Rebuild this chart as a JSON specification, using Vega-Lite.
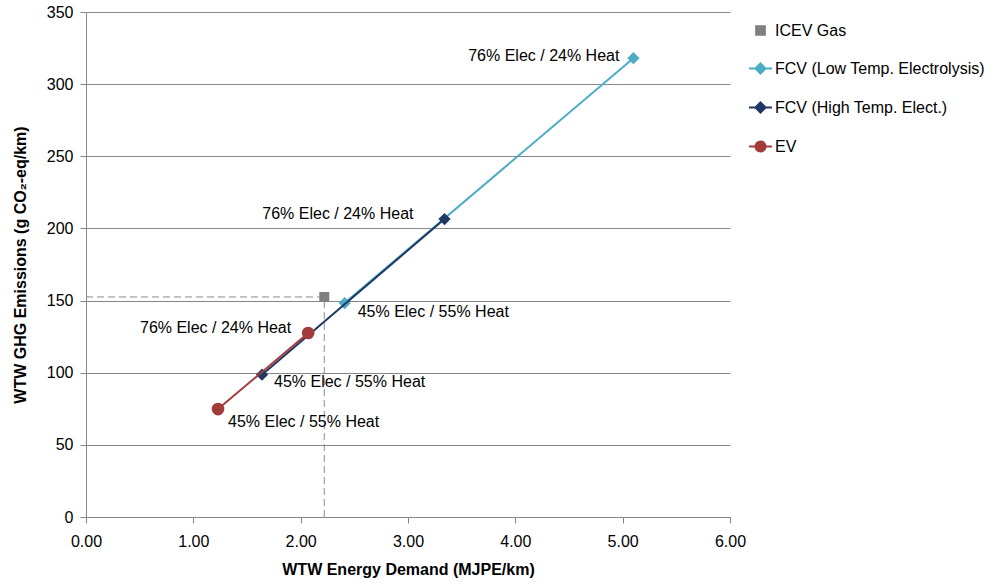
{
  "$schema": "https://vega.github.io/schema/vega-lite/v6.json",
  "autosize": "none",
  "width": 644,
  "height": 505,
  "padding": {"left": 86, "top": 12, "right": 265, "bottom": 68},
  "background": "white",
  "config": {
    "view": {"stroke": null},
    "font": "Liberation Sans",
    "axis": {
      "labelFont": "Liberation Sans",
      "labelFontSize": 16,
      "labelColor": "#000000",
      "labelFlush": false,
      "titleFont": "Liberation Sans",
      "titleFontSize": 16,
      "titleFontWeight": "bold",
      "titleColor": "#000000",
      "domainColor": "#868686",
      "tickColor": "#868686",
      "gridColor": "#868686",
      "tickSize": 6
    },
    "legend": {
      "labelFont": "Liberation Sans",
      "labelFontSize": 16,
      "labelColor": "#000000",
      "labelLimit": 400,
      "padding": 0
    }
  },
  "data": {
    "values": [
      {"series": "ICEV Gas", "energy": 2.22, "ghg": 152.5, "lab": "", "id": "icev"},
      {"series": "FCV (Low Temp. Electrolysis)", "energy": 2.41, "ghg": 148.3, "lab": "45% Elec / 55% Heat", "id": "lowA"},
      {"series": "FCV (Low Temp. Electrolysis)", "energy": 5.10, "ghg": 318, "lab": "76% Elec / 24% Heat", "id": "lowB"},
      {"series": "FCV (High Temp. Elect.)", "energy": 1.64, "ghg": 98.6, "lab": "45% Elec / 55% Heat", "id": "highA"},
      {"series": "FCV (High Temp. Elect.)", "energy": 3.34, "ghg": 206.5, "lab": "76% Elec / 24% Heat", "id": "highB"},
      {"series": "EV", "energy": 1.23, "ghg": 74.8, "lab": "45% Elec / 55% Heat", "id": "evA"},
      {"series": "EV", "energy": 2.07, "ghg": 127.5, "lab": "76% Elec / 24% Heat", "id": "evB"}
    ]
  },
  "encoding": {
    "x": {
      "field": "energy", "type": "quantitative",
      "scale": {"domain": [0, 6], "nice": false},
      "axis": {"values": [0, 1, 2, 3, 4, 5, 6], "format": ".2f", "grid": false, "labelPadding": 10, "titlePadding": 12,
        "title": "WTW Energy Demand (MJPE/km)"}
    },
    "y": {
      "field": "ghg", "type": "quantitative",
      "scale": {"domain": [0, 350], "nice": false},
      "axis": {"values": [0, 50, 100, 150, 200, 250, 300, 350], "format": "d", "grid": true, "labelPadding": 7, "titlePadding": 18,
        "title": "WTW GHG Emissions (g CO₂-eq/km)"}
    },
    "color": {
      "field": "series", "type": "nominal",
      "scale": {
        "domain": ["ICEV Gas", "FCV (Low Temp. Electrolysis)", "FCV (High Temp. Elect.)", "EV"],
        "range": ["#808080", "#4BACC6", "#1F3864", "#A33B3B"]
      },
      "legend": {
        "title": null,
        "orient": "none",
        "legendX": 662,
        "legendY": 6,
        "symbolSize": 529,
        "rowPadding": 17,
        "labelOffset": 2,
        "encode": {
          "symbols": {
            "update": {
              "shape": {"signal": "datum.value === 'ICEV Gas' ? 'M-0.38,-0.38H0.38V0.38H-0.38Z' : (datum.value === 'EV' ? 'M-1,0H1M0.44,0A0.44,0.44,0,1,1,-0.44,0A0.44,0.44,0,1,1,0.44,0Z' : 'M-1,0H1M-0.44,0L0,-0.44L0.44,0L0,0.44Z')"},
              "fill": {"scale": "color", "field": "value"},
              "stroke": {"scale": "color", "field": "value"},
              "strokeWidth": {"value": 2},
              "strokeDash": {"value": []},
              "opacity": {"value": 1},
              "fillOpacity": {"value": 1},
              "strokeOpacity": {"value": 1}
            }
          }
        }
      }
    }
  },
  "layer": [
    {
      "transform": [{"filter": "datum.id === 'icev'"}],
      "mark": {"type": "rule", "strokeDash": [7, 4], "strokeWidth": 1},
      "encoding": {"x": {"datum": 0}, "x2": {"field": "energy"}, "color": {"value": "#8c8c8c"}}
    },
    {
      "transform": [{"filter": "datum.id === 'icev'"}],
      "mark": {"type": "rule", "strokeDash": [7, 4], "strokeWidth": 1},
      "encoding": {"y": {"datum": 0}, "y2": {"field": "ghg"}, "color": {"value": "#8c8c8c"}}
    },
    {
      "transform": [{"filter": "datum.series === 'FCV (Low Temp. Electrolysis)'"}],
      "mark": {"type": "line", "strokeWidth": 2, "point": {"shape": "diamond", "size": 150, "filled": true}}
    },
    {
      "transform": [{"filter": "datum.series === 'FCV (High Temp. Elect.)'"}],
      "mark": {"type": "line", "strokeWidth": 2, "point": {"shape": "diamond", "size": 150, "filled": true}}
    },
    {
      "transform": [{"filter": "datum.series === 'EV'"}],
      "mark": {"type": "line", "strokeWidth": 2, "point": {"shape": "circle", "size": 160, "filled": true}}
    },
    {
      "transform": [{"filter": "datum.series === 'ICEV Gas'"}],
      "mark": {"type": "point", "shape": "square", "size": 100, "filled": true, "opacity": 1}
    },
    {
      "transform": [{"filter": "datum.id === 'lowB'"}],
      "mark": {"type": "text", "align": "right", "baseline": "middle", "dx": -14, "dy": -2, "fontSize": 16},
      "encoding": {"text": {"field": "lab"}, "color": {"value": "#000000"}}
    },
    {
      "transform": [{"filter": "datum.id === 'highB'"}],
      "mark": {"type": "text", "align": "right", "baseline": "middle", "dx": -31, "dy": -5, "fontSize": 16},
      "encoding": {"text": {"field": "lab"}, "color": {"value": "#000000"}}
    },
    {
      "transform": [{"filter": "datum.id === 'lowA'"}],
      "mark": {"type": "text", "align": "left", "baseline": "middle", "dx": 13, "dy": 9, "fontSize": 16},
      "encoding": {"text": {"field": "lab"}, "color": {"value": "#000000"}}
    },
    {
      "transform": [{"filter": "datum.id === 'evB'"}],
      "mark": {"type": "text", "align": "right", "baseline": "middle", "dx": -17, "dy": -5, "fontSize": 16},
      "encoding": {"text": {"field": "lab"}, "color": {"value": "#000000"}}
    },
    {
      "transform": [{"filter": "datum.id === 'highA'"}],
      "mark": {"type": "text", "align": "left", "baseline": "middle", "dx": 12, "dy": 7, "fontSize": 16},
      "encoding": {"text": {"field": "lab"}, "color": {"value": "#000000"}}
    },
    {
      "transform": [{"filter": "datum.id === 'evA'"}],
      "mark": {"type": "text", "align": "left", "baseline": "middle", "dx": 10, "dy": 13, "fontSize": 16},
      "encoding": {"text": {"field": "lab"}, "color": {"value": "#000000"}}
    }
  ]
}
